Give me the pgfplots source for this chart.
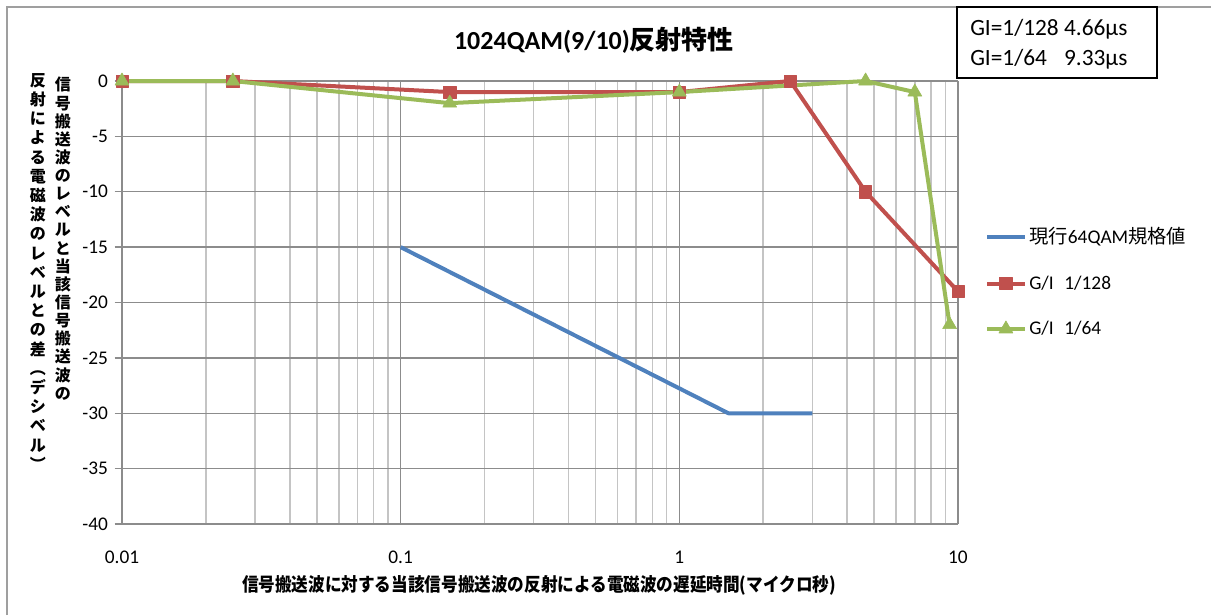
\documentclass[border=0pt]{standalone}
\usepackage{fontspec}
\setmainfont{Carlito}
\newfontfamily\jp{Noto Sans CJK JP}
\usepackage{pgfplots}
\pgfplotsset{compat=1.18}
\definecolor{xlblue}{HTML}{4F81BD}
\definecolor{xlred}{HTML}{C0504D}
\definecolor{xlgreen}{HTML}{9BBB59}
\definecolor{gmaj}{HTML}{8C8C8C}
\definecolor{gmin}{HTML}{C4C4C4}

\begin{document}
\begin{tikzpicture}
\path[use as bounding box] (0,0) rectangle (908.25pt,461.25pt);
\begin{axis}[
  at={(91.5pt,68.25pt)}, anchor=south west,
  scale only axis, width=627pt, height=332.25pt,
  xmode=log, xmin=0.01, xmax=10, ymin=-40, ymax=0,
  clip=false,
  axis line style={draw=none},
  xtick={0.01,0.1,1,10}, xticklabels={0.01,0.1,1,10},
  minor xtick={0.02,0.03,0.04,0.05,0.06,0.07,0.08,0.09,0.2,0.3,0.4,0.5,0.6,0.7,0.8,0.9,2,3,4,5,6,7,8,9},
  ytick={-40,-35,...,0}, yticklabels={-40,-35,-30,-25,-20,-15,-10,-5,0},
  grid=both,
  major grid style={gmaj, line width=1.1pt},
  minor grid style={gmin, line width=1.1pt},
  tick align=outside, ytick pos=left,
  major tick length=5.5pt, minor tick length=0pt,
  x tick style={draw=none}, minor x tick style={draw=none},
  y tick style={gmaj, line width=1.1pt},
  tick label style={font=\fontsize{14.5}{16}\selectfont},
  xticklabel shift=11pt, yticklabel shift=1.5pt,
  legend cell align=left,
  legend style={at={(1.0323,0.546)}, anchor=west, draw=none, fill=none,
    inner sep=0pt, row sep=18.5pt, font=\fontsize{14.5}{16}\selectfont},
  legend image code/.code={\draw[mark repeat=2,mark phase=2,#1] plot coordinates {(0pt,0pt) (14pt,0pt) (28pt,0pt)};},
  every axis plot/.append style={line width=3pt, line join=round},
]
\addplot[xlblue, mark=none] coordinates {
(0.1,-15) (1.5,-30) (3,-30)
};
\addlegendentry{{\jp 現行}64QAM{\jp 規格値}}
\addplot[xlred, mark=square*, mark size=4.6pt, mark options={line width=0.5pt}] coordinates {
(0.01,0) (0.025,0) (0.15,-1) (1,-1) (2.5,0) (4.66,-10) (10,-19)
};
\addlegendentry{G/I\hspace{0.55em}1/128}
\addplot[xlgreen, mark=triangle*, mark size=6pt, mark options={line width=0.5pt}] coordinates {
(0.01,0) (0.025,0) (0.15,-2) (1,-1) (4.66,0) (7,-1) (9.33,-22)
};
\addlegendentry{G/I\hspace{0.55em}1/64}
\end{axis}
\begin{scope}[x=0.75pt, y=-0.75pt, shift={(0pt,461.25pt)}]
\draw[color=gray!75, line width=1.1pt] (7,615) -- (7,7) -- (1211,7);
\draw[black, line width=1.1pt, fill=white] (957,7) rectangle (1157,78);
\node[anchor=west, inner sep=0pt, font=\fontsize{17.5}{21}\selectfont] at (970,29) {GI=1/128 4.66µs};
\node[anchor=west, inner sep=0pt, font=\fontsize{17.5}{21}\selectfont] at (970,59) {GI=1/64\phantom{8} 9.33µs};
\node[font=\fontsize{19.5}{23}\selectfont\bfseries] at (594,40) {1024QAM(9/10){\jp 反射特性}};
\node[font=\jp\bfseries\fontsize{14}{16}\selectfont] at (539,585) {\scalebox{0.89}[1]{信号搬送波に対する当該信号搬送波の反射による電磁波の遅延時間(マイクロ秒)}};
\node[anchor=north, align=center, inner sep=0pt, font=\jp\bfseries\fontsize{12}{13.6}\selectfont] at (63,77)
  {信\\号\\搬\\送\\波\\の\\レ\\ベ\\ル\\と\\当\\該\\信\\号\\搬\\送\\波\\の};
\node[anchor=north, align=center, inner sep=0pt, font=\jp\bfseries\fontsize{12}{14.4}\selectfont] at (38,73)
  {反\\射\\に\\よ\\る\\電\\磁\\波\\の\\レ\\ベ\\ル\\と\\の\\差\\︵\\デ\\シ\\ベ\\ル\\︶};
\end{scope}
\end{tikzpicture}
\end{document}
